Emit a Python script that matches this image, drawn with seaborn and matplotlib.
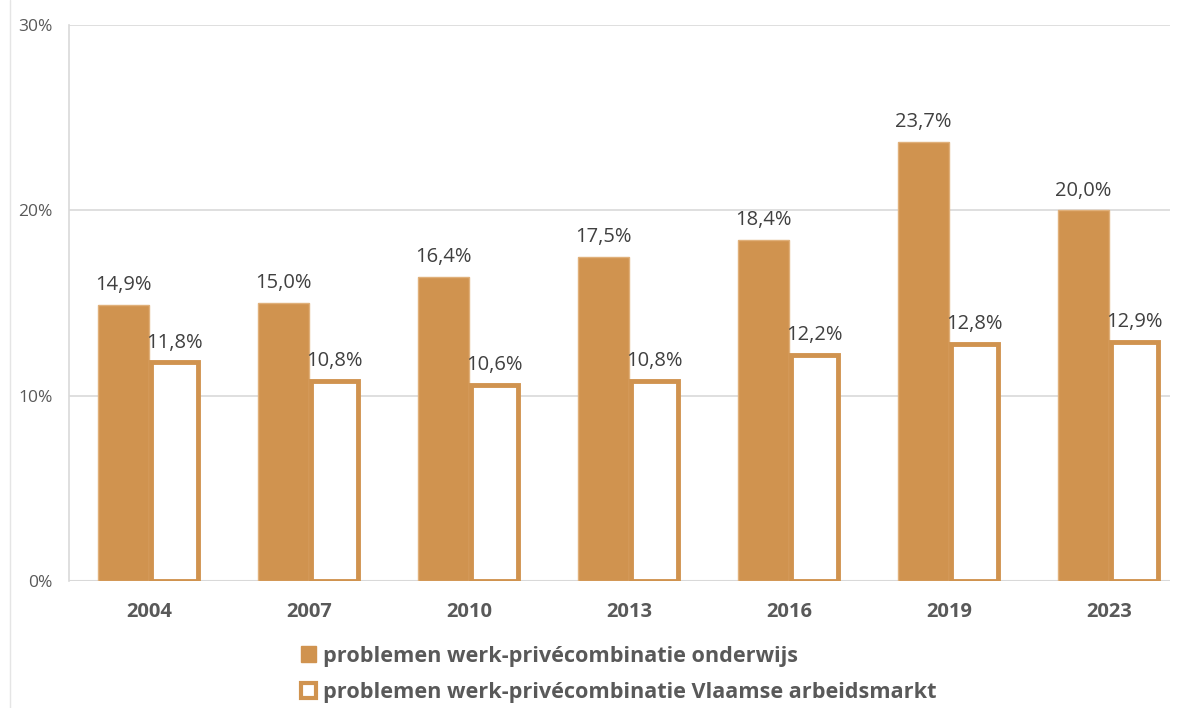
import matplotlib
matplotlib.use("Agg")
import matplotlib.pyplot as plt
import seaborn as sns
import pandas as pd
from matplotlib.lines import Line2D
from matplotlib.patches import Patch

# data
jaren = ["2004", "2007", "2010", "2013", "2016", "2019", "2023"]
onderwijs = [14.9, 15.0, 16.4, 17.5, 18.4, 23.7, 20.0]
vlaams = [11.8, 10.8, 10.6, 10.8, 12.2, 12.8, 12.9]
reeks = ["problemen werk-privécombinatie onderwijs",
         "problemen werk-privécombinatie Vlaamse arbeidsmarkt"]

oranje = "#D0934F"
grijs = "#595959"

df = pd.DataFrame({
    "jaar": jaren * 2,
    "waarde": onderwijs + vlaams,
    "reeks": [reeks[0]] * len(jaren) + [reeks[1]] * len(jaren),
})

sns.set_style("white")
plt.rcParams["font.family"] = ["Open Sans", "DejaVu Sans"]

fig = plt.figure(figsize=(11.83, 7.08), dpi=100)
ax = fig.add_axes([69 / 1183, 1 - 581 / 708, (1170 - 69) / 1183, (581 - 25) / 708])

sns.barplot(data=df, x="jaar", y="waarde", hue="reeks", order=jaren,
            hue_order=reeks, palette=[oranje, oranje], width=0.64,
            gap=0.0, ax=ax, legend=False, saturation=1)

# bars: eerste reeks gevuld, tweede hol
n = len(jaren)
for i, p in enumerate(ax.patches[:2 * n]):
    if i < n:
        p.set_facecolor(oranje)
        p.set_edgecolor("#E0B07A")
        p.set_linewidth(1)
    else:
        x0, w = p.get_x(), p.get_width()
        p.set_x(x0 + 0.012)
        p.set_width(w - 0.024)
        p.set_facecolor("white")
        p.set_edgecolor(oranje)
        p.set_linewidth(3.5)

# labels
for i, p in enumerate(ax.patches[:2 * n]):
    val = onderwijs[i] if i < n else vlaams[i - n]
    ax.annotate(f"{val:.1f}%".replace(".", ","),
                (p.get_x() + p.get_width() / 2, p.get_height()),
                xytext=(0, 7), textcoords="offset points",
                ha="center", va="bottom", fontsize=14.5, color="#404040")

ax.set_ylim(0, 30)
ax.set_xlim(-0.5, 6.38)
ax.set_yticks([0, 10, 20, 30])
ax.set_yticklabels(["0%", "10%", "20%", "30%"], color=grijs, fontsize=12.5)
ax.tick_params(axis="y", length=0, pad=12)
ax.tick_params(axis="x", length=0, pad=15)
for lbl in ax.get_xticklabels():
    lbl.set_fontweight("bold")
    lbl.set_fontsize(14.5)
    lbl.set_color(grijs)
ax.set_xlabel("")
ax.set_ylabel("")
ax.yaxis.grid(True, color="#D9D9D9", linewidth=1.2)
ax.set_axisbelow(True)
for s in ["top", "right", "bottom"]:
    ax.spines[s].set_visible(False)
ax.spines["left"].set_color("#D9D9D9")
ax.spines["left"].set_linewidth(1.2)
ax.axhline(0, color="#D9D9D9", linewidth=1.5, zorder=0)

# rand links
fig.add_artist(Line2D([10 / 1183, 10 / 1183], [0, 1], color="#E5E5E5", linewidth=1))

handles = [Patch(facecolor=oranje, edgecolor=oranje),
           Patch(facecolor="white", edgecolor=oranje, linewidth=3)]
leg = fig.legend(handles, reeks, loc="upper left",
                 bbox_to_anchor=(292 / 1183, 1 - 637 / 708), frameon=False,
                 ncol=1, handlelength=0.72, handleheight=0.72, handletextpad=0.3,
                 labelspacing=0.7, fontsize=15.6, borderaxespad=0)
for t in leg.get_texts():
    t.set_fontweight("bold")
    t.set_color(grijs)

fig.savefig("out.png", dpi=100)
